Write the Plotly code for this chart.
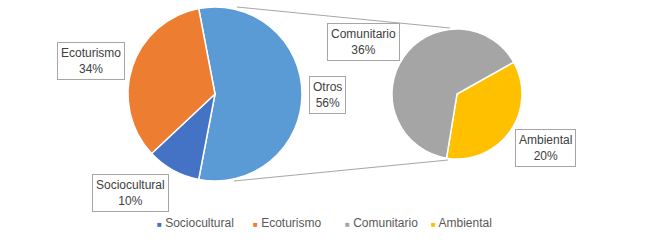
import plotly.graph_objects as go

# ---- data ----
main_labels = ["Otros", "Sociocultural", "Ecoturismo"]
main_values = [56, 10, 34]
sub_labels = ["Ambiental", "Comunitario"]
sub_values = [20, 36]
legend_labels = ["Sociocultural", "Ecoturismo", "Comunitario", "Ambiental"]

colors = {
    "Otros": "#5B9BD5",
    "Sociocultural": "#4472C4",
    "Ecoturismo": "#ED7D31",
    "Comunitario": "#A5A5A5",
    "Ambiental": "#FFC000",
}

W, H = 650, 243
FONT = "Liberation Sans, Arial, sans-serif"


def px(x):
    return x / W


def py(y):
    return 1 - y / H


fig = go.Figure()

fig.add_trace(go.Pie(
    labels=main_labels, values=main_values, sort=False, direction="clockwise",
    rotation=-10.8, textinfo="none", hoverinfo="label+percent",
    marker=dict(colors=[colors[l] for l in main_labels], line=dict(color="white", width=1.5)),
    domain=dict(x=[px(128), px(302)], y=[py(181), py(7)]),
    showlegend=False,
))

fig.add_trace(go.Pie(
    labels=sub_labels, values=sub_values, sort=False, direction="clockwise",
    rotation=60.7, textinfo="none", hoverinfo="label+value",
    marker=dict(colors=[colors[l] for l in sub_labels], line=dict(color="white", width=1.5)),
    domain=dict(x=[px(392), px(522)], y=[py(159), py(29)]),
    showlegend=False,
))

# connector lines
for (x0, y0, x1, y1) in [(237, 7, 450, 28), (234, 181, 448, 160)]:
    fig.add_shape(type="line", xref="paper", yref="paper",
                  x0=px(x0), y0=py(y0), x1=px(x1), y1=py(y1),
                  line=dict(color="#A6A6A6", width=1))

# callout labels
all_vals = dict(zip(main_labels, main_values))
all_vals.update(dict(zip(sub_labels, sub_values)))
label_pos = {
    "Ecoturismo": (91, 61),
    "Otros": (327, 95),
    "Sociocultural": (130, 193),
    "Comunitario": (363, 42),
    "Ambiental": (545, 148),
}
for lab, (cx, cy) in label_pos.items():
    fig.add_annotation(
        x=px(cx), y=py(cy), xref="paper", yref="paper",
        text=f"{lab}<br>{all_vals[lab]}%", showarrow=False,
        font=dict(family=FONT, size=12, color="#404040"),
        bgcolor="white", bordercolor="#A6A6A6", borderwidth=1, borderpad=3,
        align="center", xanchor="center", yanchor="middle",
    )

# legend (Otros is not listed)
legend_x = [155, 251, 343, 429]
for lab, lx in zip(legend_labels, legend_x):
    fig.add_annotation(
        x=px(lx), y=py(223), xref="paper", yref="paper",
        text=f"<span style='color:{colors[lab]};font-size:8px'>■</span> {lab}",
        showarrow=False, xanchor="left", yanchor="middle",
        font=dict(family=FONT, size=12, color="#595959"),
    )

fig.update_layout(
    width=W, height=H, autosize=False,
    margin=dict(l=0, r=0, t=0, b=0),
    paper_bgcolor="white", plot_bgcolor="white",
    font=dict(family=FONT, size=12, color="#595959"),
    showlegend=False,
)

fig.write_html("out.html", config={"displayModeBar": False})
with open("out.html", encoding="utf-8") as f:
    html = f.read()
html = html.replace("<head>", "<head><style>html,body{margin:0;padding:0;overflow:hidden}</style>", 1)
with open("out.html", "w", encoding="utf-8") as f:
    f.write(html)
